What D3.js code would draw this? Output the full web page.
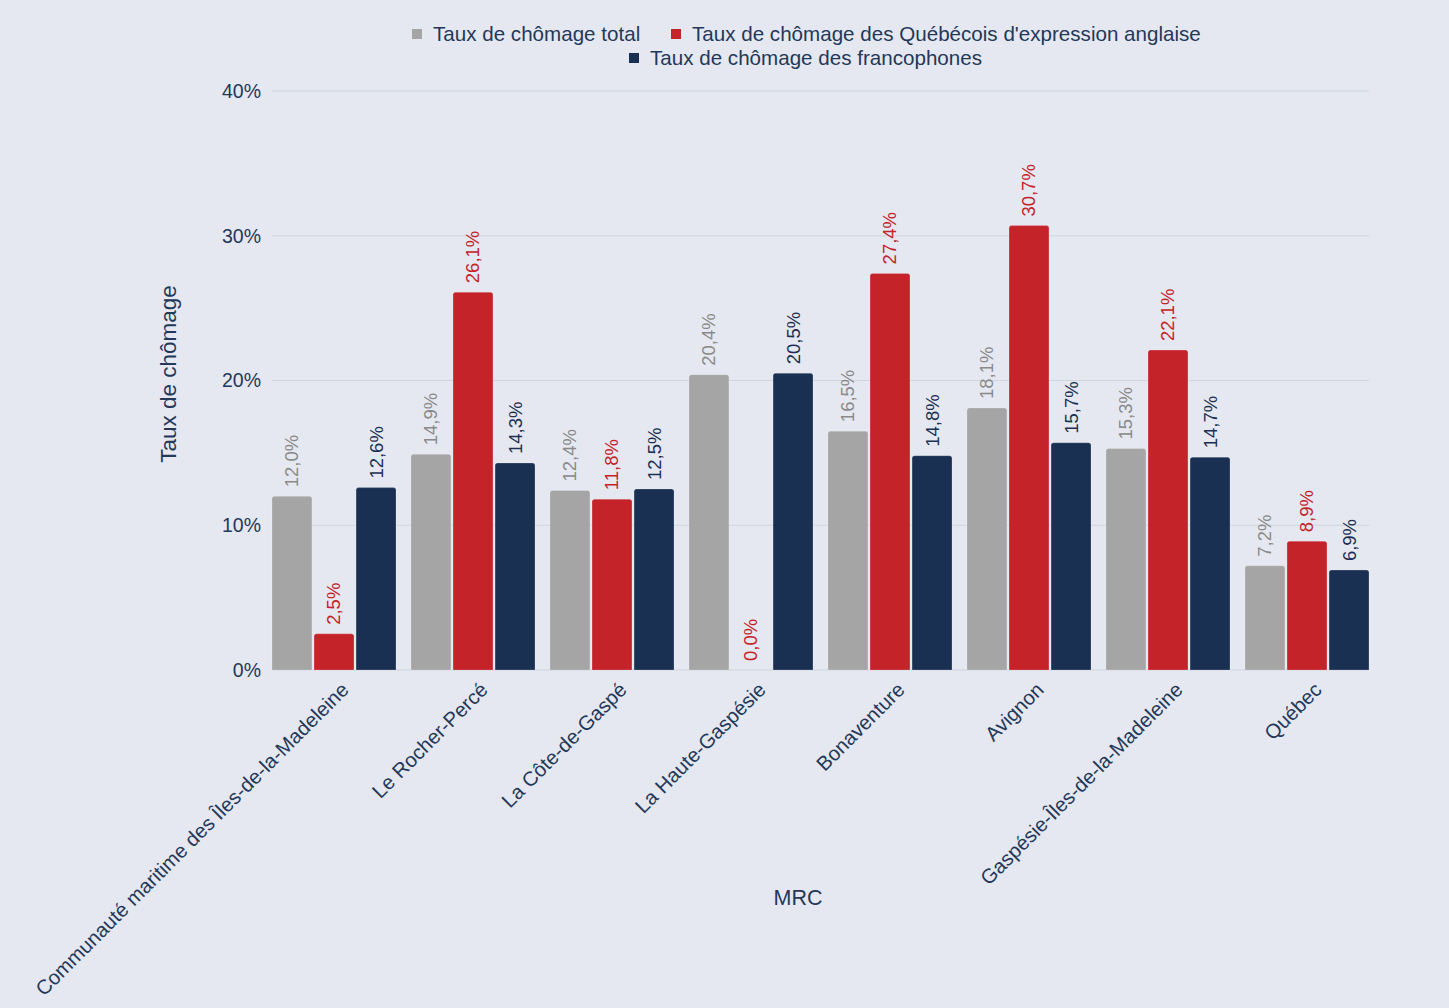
<!DOCTYPE html>
<html><head><meta charset="utf-8">
<script src="https://cdn.jsdelivr.net/npm/d3@7"></script>
<style>
html,body{margin:0;padding:0;background:#e5e8f0;}
svg{display:block;font-family:"Liberation Sans",Arial,Helvetica,sans-serif;}
</style></head>
<body>
<script>
const categories = ["Communauté maritime des Îles-de-la-Madeleine","Le Rocher-Percé","La Côte-de-Gaspé","La Haute-Gaspésie","Bonaventure","Avignon","Gaspésie-Îles-de-la-Madeleine","Québec"];
const seriesNames = ["Taux de chômage total","Taux de chômage des Québécois d'expression anglaise","Taux de chômage des francophones"];
const totalValues = [12.0,14.9,12.4,20.4,16.5,18.1,15.3,7.2];
const anglophoneValues = [2.5,26.1,11.8,0.0,27.4,30.7,22.1,8.9];
const francophoneValues = [12.6,14.3,12.5,20.5,14.8,15.7,14.7,6.9];
const yTicks = [0,10,20,30,40];

const W=1449,H=1008;
const barColors=["#a5a5a5","#c4232a","#1a3052"];
const labelColors=["#8a8a8a","#c4232a","#1a3052"];
const textColor="#24385a";
const series=[totalValues,anglophoneValues,francophoneValues];

const svg=d3.select("body").append("svg").attr("width",W).attr("height",H);
svg.append("rect").attr("width",W).attr("height",H).attr("fill","#e5e8f0");

const y=d3.scaleLinear().domain([0,40]).range([670,91]);
const x0=d3.scaleBand().domain(categories).range([264.5,1376.5]).paddingInner(0.108).paddingOuter(0.054);
const x1=d3.scaleBand().domain([0,1,2]).range([0,x0.bandwidth()]).paddingInner(0.05);
const gx0=x0(categories[0]), gx1=x0(categories[categories.length-1])+x0.bandwidth();

// gridlines
svg.append("g").selectAll("line").data(yTicks).join("line")
  .attr("x1",gx0).attr("x2",gx1).attr("y1",d=>y(d)).attr("y2",d=>y(d))
  .attr("stroke","#d0d4de").attr("stroke-width",1.2);

// y axis labels
const yAxis=d3.axisLeft(y).tickValues(yTicks).tickFormat(d=>d+"%").tickSize(0).tickPadding(11);
const ya=svg.append("g").attr("transform",`translate(${gx0},0)`).call(yAxis);
ya.select(".domain").remove();
ya.selectAll("text").attr("font-size",19.5).attr("fill",textColor).attr("font-family","Liberation Sans, Arial, sans-serif");

// bars
const groups=svg.append("g").selectAll("g").data(categories).join("g")
  .attr("transform",d=>`translate(${x0(d)},0)`);
function topRounded(x,yt,w,h,r){
  r=Math.min(r,h,w/2);
  if(h<=0) return "";
  return `M${x},${yt+h}V${yt+r}Q${x},${yt} ${x+r},${yt}H${x+w-r}Q${x+w},${yt} ${x+w},${yt+r}V${yt+h}Z`;
}
groups.each(function(cat,ci){
  const g=d3.select(this);
  series.forEach((vals,si)=>{
    const v=vals[ci];
    const bx=x1(si), bw=x1.bandwidth();
    const yt=y(v);
    g.append("path").attr("d",topRounded(bx,yt,bw,670-yt,2.5))
      .attr("fill",barColors[si]).attr("stroke","rgba(255,255,255,0.25)").attr("stroke-width",0.8);
    g.append("text")
      .attr("transform",`translate(${bx+bw/2},${yt-9}) rotate(-90)`)
      .attr("dy","0.35em").attr("text-anchor","start")
      .attr("font-size",18.5).attr("fill",labelColors[si])
      .text(d3.format(".1f")(v).replace(".",",")+"%");
  });
});

// x axis category labels
svg.append("g").selectAll("text").data(categories).join("text")
  .attr("transform",d=>`translate(${x0(d)+x0.bandwidth()/2+11},686) rotate(-45)`)
  .attr("text-anchor","end").attr("dy","0.35em")
  .attr("font-size",20.3).attr("fill",textColor).text(d=>d);

// axis titles
svg.append("text").attr("x",798).attr("y",897).attr("dy","0.35em").attr("text-anchor","middle")
  .attr("font-size",21.5).attr("fill",textColor).text("MRC");
svg.append("text").attr("transform","translate(168,374) rotate(-90)").attr("dy","0.35em")
  .attr("text-anchor","middle").attr("font-size",22.5).attr("fill",textColor).text("Taux de chômage");

// legend
const legendItems=[
  {i:0,x:412,y:34},
  {i:1,x:671,y:34},
  {i:2,x:629,y:58}
];
const lg=svg.append("g").selectAll("g").data(legendItems).join("g")
  .attr("transform",d=>`translate(${d.x},${d.y})`);
lg.append("rect").attr("x",0).attr("y",-5).attr("width",10).attr("height",10).attr("fill",d=>barColors[d.i]);
lg.append("text").attr("x",21).attr("dy","0.35em").attr("font-size",20.6).attr("fill",textColor)
  .text(d=>seriesNames[d.i]);
</script>
</body></html>
